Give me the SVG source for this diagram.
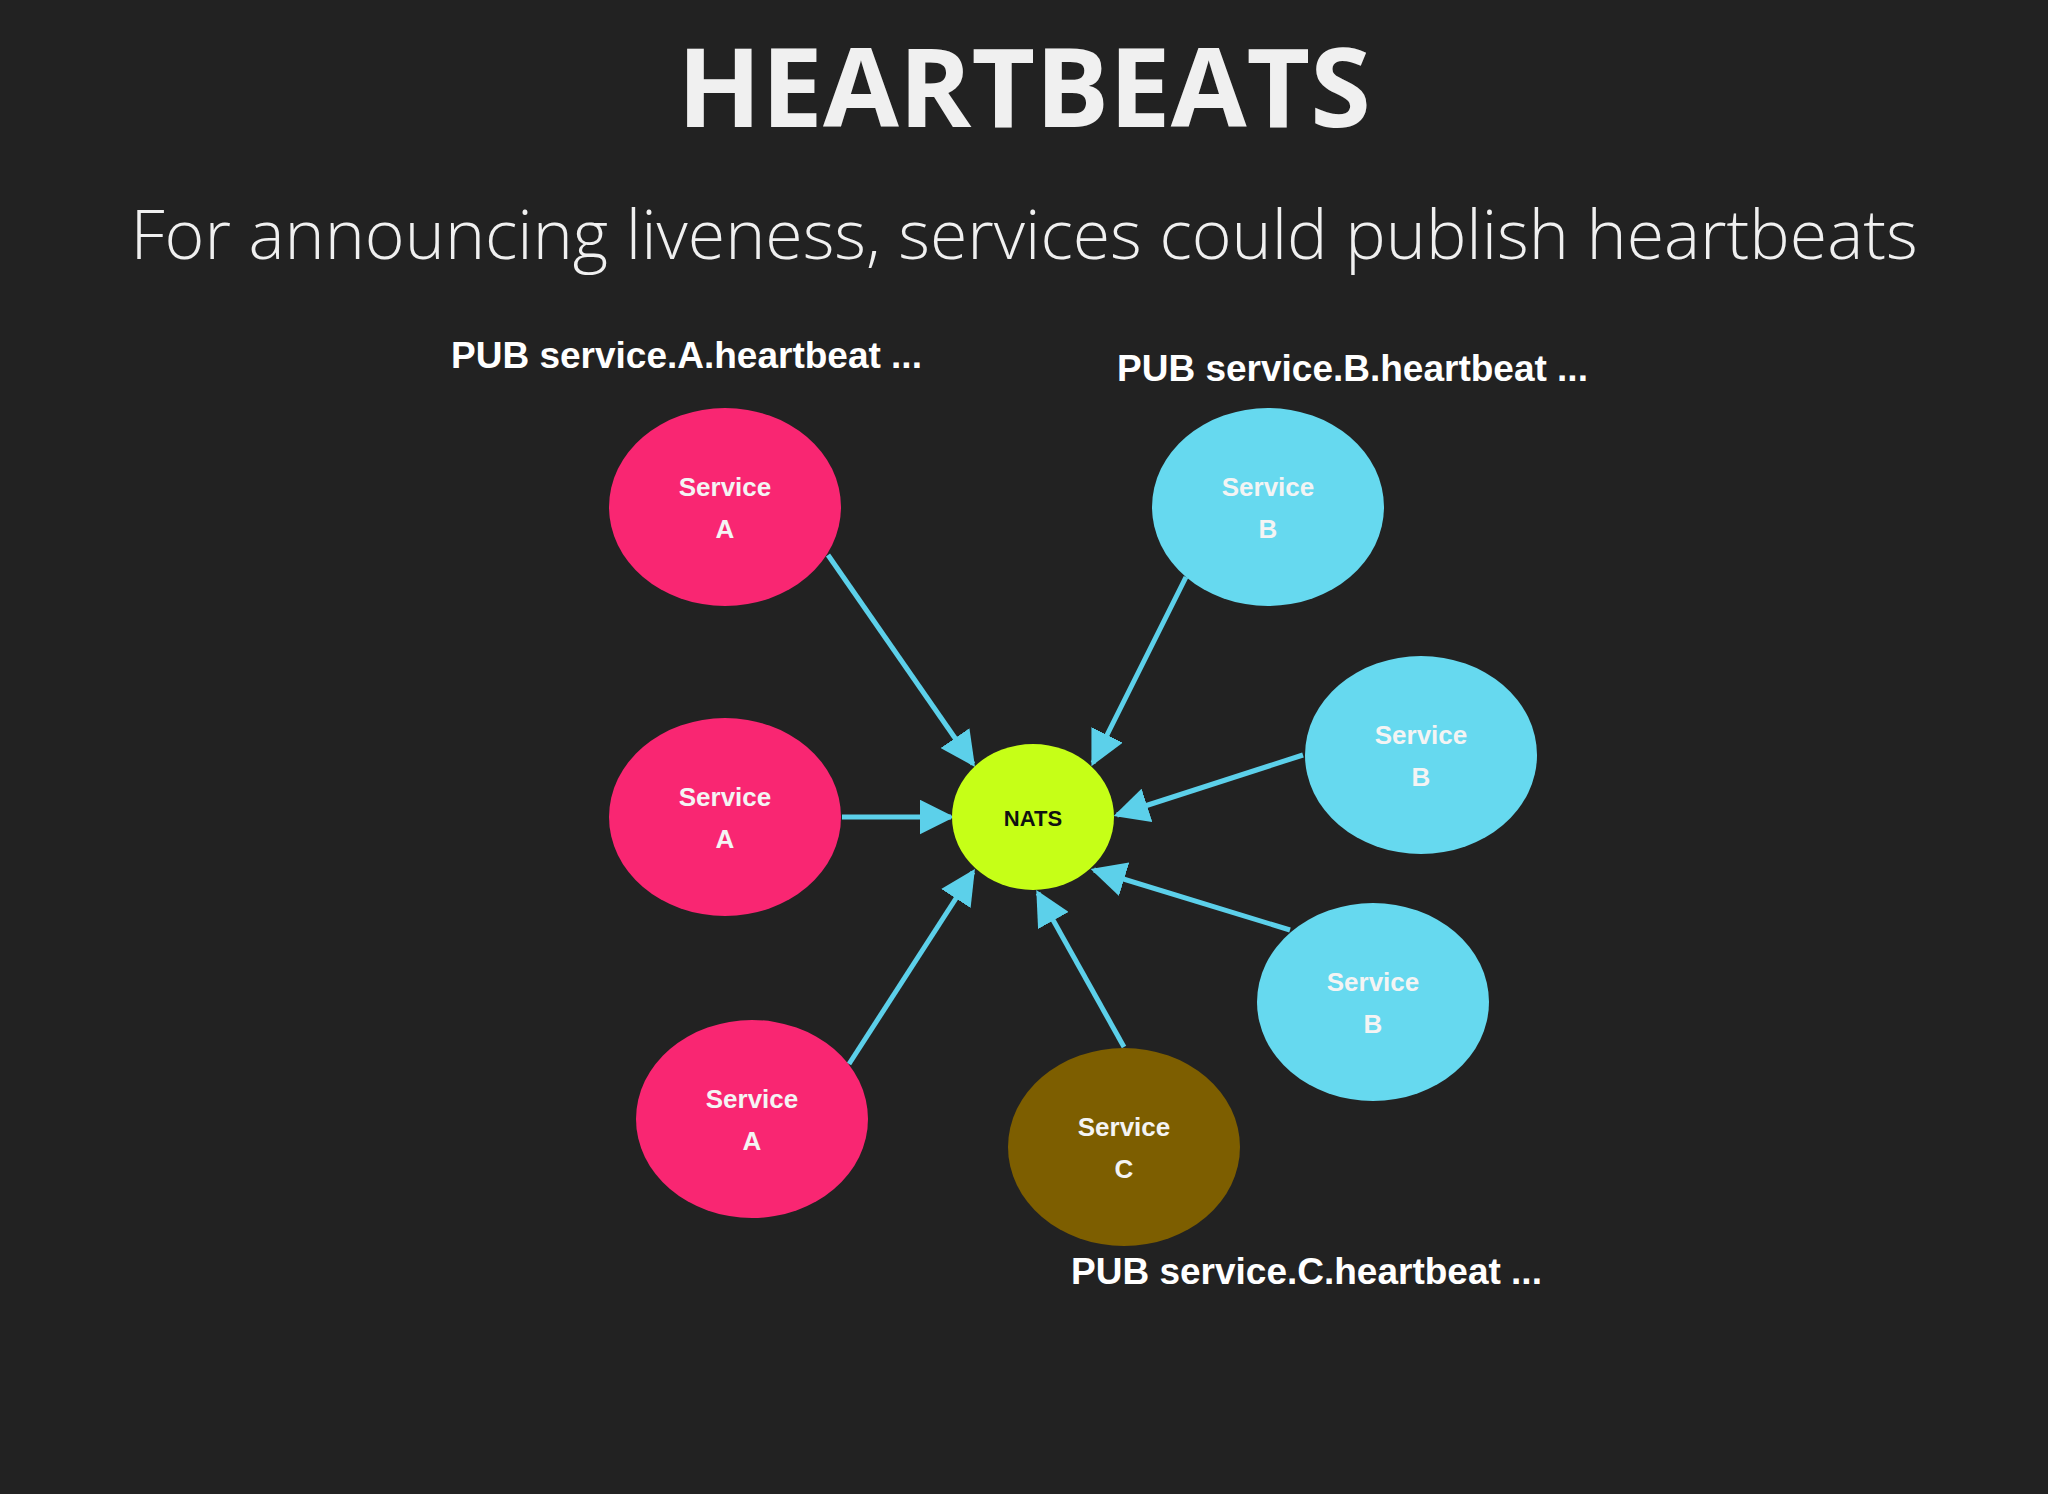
<svg xmlns="http://www.w3.org/2000/svg" width="2048" height="1494" viewBox="0 0 2048 1494">
<style>
.t{font-family:"Open Sans","Liberation Sans",sans-serif;fill:#f0f0f0;text-anchor:middle}
.pub{font-family:"Liberation Sans",Arial,sans-serif;font-weight:bold;font-size:37px;fill:#ffffff}
.n{font-family:"Liberation Sans",Arial,sans-serif;font-weight:bold;font-size:26px;fill:#f4f4f4;text-anchor:middle}
.a{fill:#f92672}.b{fill:#66d9ef}.c{fill:#7d5e00}
.e{stroke:#5cd0ea;stroke-width:5;fill:none;marker-end:url(#ah)}
</style>
<defs><marker id="ah" viewBox="0 0 10 10" refX="9" refY="5" markerWidth="7" markerHeight="7" markerUnits="strokeWidth" orient="auto"><path d="M0,0L10,5L0,10z" fill="#5cd0ea"/></marker></defs>
<rect width="2048" height="1494" fill="#222222"/>
<text class="t" x="1024" y="127" font-size="110" font-weight="bold">HEARTBEATS</text>
<text class="t" x="1024" y="259" font-size="68" font-weight="300">For announcing liveness, services could publish heartbeats</text>
<text class="pub" x="451" y="368">PUB service.A.heartbeat ...</text>
<text class="pub" x="1117" y="381">PUB service.B.heartbeat ...</text>
<text class="pub" x="1071" y="1284">PUB service.C.heartbeat ...</text>
<g id="edges">
<line class="e" x1="828" y1="555" x2="973" y2="764"/>
<line class="e" x1="842" y1="817" x2="951" y2="817"/>
<line class="e" x1="849" y1="1064" x2="973" y2="872"/>
<line class="e" x1="1186" y1="577" x2="1093" y2="763"/>
<line class="e" x1="1303" y1="755" x2="1117" y2="815"/>
<line class="e" x1="1290" y1="930" x2="1094" y2="870"/>
<line class="e" x1="1124" y1="1047" x2="1038" y2="893"/>
</g>
<g id="a1"><ellipse class="a" cx="725" cy="507" rx="116" ry="99"/><text class="n" x="725" y="496">Service</text><text class="n" x="725" y="538">A</text></g>
<g id="a2"><ellipse class="a" cx="725" cy="817" rx="116" ry="99"/><text class="n" x="725" y="806">Service</text><text class="n" x="725" y="848">A</text></g>
<g id="a3"><ellipse class="a" cx="752" cy="1119" rx="116" ry="99"/><text class="n" x="752" y="1108">Service</text><text class="n" x="752" y="1150">A</text></g>
<g id="b1"><ellipse class="b" cx="1268" cy="507" rx="116" ry="99"/><text class="n" x="1268" y="496">Service</text><text class="n" x="1268" y="538">B</text></g>
<g id="b2"><ellipse class="b" cx="1421" cy="755" rx="116" ry="99"/><text class="n" x="1421" y="744">Service</text><text class="n" x="1421" y="786">B</text></g>
<g id="b3"><ellipse class="b" cx="1373" cy="1002" rx="116" ry="99"/><text class="n" x="1373" y="991">Service</text><text class="n" x="1373" y="1033">B</text></g>
<g id="c"><ellipse class="c" cx="1124" cy="1147" rx="116" ry="99"/><text class="n" x="1124" y="1136">Service</text><text class="n" x="1124" y="1178">C</text></g>
<g id="nats"><ellipse cx="1033" cy="817" rx="81" ry="73" fill="#c6ff17"/><text x="1033" y="826" font-family="Liberation Sans,Arial,sans-serif" font-weight="bold" font-size="22" fill="#111" text-anchor="middle">NATS</text></g>
</svg>
